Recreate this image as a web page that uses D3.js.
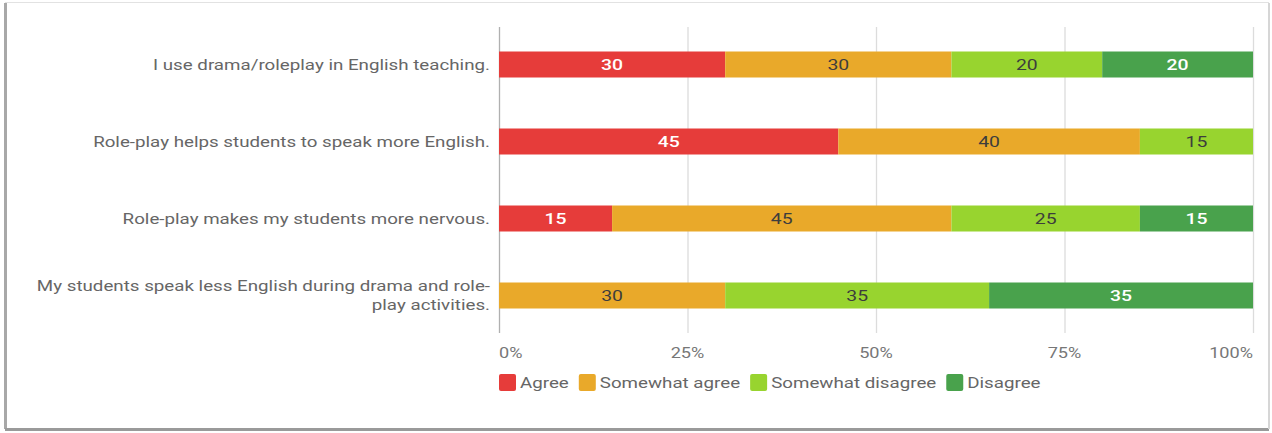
<!DOCTYPE html>
<html>
<head>
<meta charset="utf-8">
<script src="https://cdn.jsdelivr.net/npm/d3@7"></script>
<style>
  body { margin: 0; background: #fff; }
  text { font-family: Roboto, "Noto Sans", sans-serif; }
</style>
</head>
<body>
<div id="chart"></div>
<script>
const categories = [
  "I use drama/roleplay in English teaching.",
  "Role-play helps students to speak more English.",
  "Role-play makes my students more nervous.",
  "My students speak less English during drama and role-|play activities."
];
const seriesNames = ["Agree", "Somewhat agree", "Somewhat disagree", "Disagree"];
const agree = [30, 45, 15, 0];
const somewhatAgree = [30, 40, 45, 30];
const somewhatDisagree = [20, 15, 25, 35];
const disagree = [20, 0, 15, 35];
const tickValues = [0, 25, 50, 75, 100];

const colors = ["#e63c3a", "#e9a92a", "#98d42f", "#49a24c"];
const labelColors = ["#ffffff", "#3d3d3d", "#3d3d3d", "#ffffff"];

const W = 1272, H = 433;
// the source picture is stretched sideways, so text is too
const sx = 1.25;

const svg = d3.select("#chart").append("svg")
  .attr("width", W)
  .attr("height", H);

function place(x, y) {
  return "translate(" + x + "," + y + ") scale(" + sx + ",1)";
}

// frame round the picture
svg.append("rect")
  .attr("x", 5.5).attr("y", 2.5)
  .attr("width", 1263).attr("height", 426)
  .attr("fill", "#fff")
  .attr("stroke", "#e2e2e2");
svg.append("line")
  .attr("x1", 5.5).attr("x2", 5.5).attr("y1", 3).attr("y2", 429)
  .attr("stroke", "#a8a8a8").attr("stroke-width", 3);
svg.append("line")
  .attr("x1", 5).attr("x2", 1269).attr("y1", 429.5).attr("y2", 429.5)
  .attr("stroke", "#9a9a9a").attr("stroke-width", 3);
svg.append("line")
  .attr("x1", 1269).attr("x2", 1269).attr("y1", 3).attr("y2", 429)
  .attr("stroke", "#d6d6d6").attr("stroke-width", 2);

let x = d3.scaleLinear()
  .domain([0, 100])
  .range([499, 1253]);

let y = d3.scaleBand()
  .domain(categories)
  .range([26, 334])
  .paddingInner(51 / 77)
  .paddingOuter(51 / 154);

// gridlines
svg.append("g")
  .selectAll("line")
  .data(tickValues)
  .enter().append("line")
  .attr("x1", d => x(d) + 0.5)
  .attr("x2", d => x(d) + 0.5)
  .attr("y1", 27)
  .attr("y2", 333)
  .attr("stroke", d => d === 0 ? "#b0b0b0" : "#dcdcdc")
  .attr("stroke-width", 1.3);

// tick labels
svg.append("g")
  .selectAll("text")
  .data(tickValues)
  .enter().append("text")
  .attr("transform", d => place(x(d), 358))
  .attr("text-anchor", (d, i) => i === 0 ? "start" : (i === tickValues.length - 1 ? "end" : "middle"))
  .attr("font-size", 14.5)
  .attr("fill", "#777")
  .text(d => d + "%");

// stacked data
const table = categories.map((c, i) => ({
  cat: c,
  Agree: agree[i],
  "Somewhat agree": somewhatAgree[i],
  "Somewhat disagree": somewhatDisagree[i],
  Disagree: disagree[i]
}));
const stacked = d3.stack().keys(seriesNames)(table);

const layers = svg.append("g")
  .selectAll("g")
  .data(stacked)
  .enter().append("g")
  .attr("fill", (d, i) => colors[i]);

layers.selectAll("rect")
  .data(d => d)
  .enter().append("rect")
  .attr("x", d => x(d[0]))
  .attr("y", d => y(d.data.cat))
  .attr("width", d => x(d[1]) - x(d[0]))
  .attr("height", y.bandwidth());

stacked.forEach(function(layer, li) {
  svg.append("g")
    .selectAll("text")
    .data(layer.filter(d => d[1] - d[0] > 0))
    .enter().append("text")
    .attr("transform", d => place((x(d[0]) + x(d[1])) / 2, y(d.data.cat) + y.bandwidth() / 2))
    .attr("dy", "0.36em")
    .attr("text-anchor", "middle")
    .attr("font-size", 15.5)
    .attr("font-weight", li === 0 || li === 3 ? 500 : 400)
    .attr("fill", labelColors[li])
    .text(d => d[1] - d[0]);
});

// category labels
svg.append("g")
  .selectAll("text")
  .data(categories)
  .enter().append("text")
  .attr("transform", d => place(490, y(d) + y.bandwidth() / 2))
  .attr("text-anchor", "end")
  .attr("font-size", 15)
  .attr("fill", "#666")
  .each(function(d) {
    let lines = d.split("|");
    let t = d3.select(this);
    lines.forEach(function(l, i) {
      t.append("tspan")
        .attr("x", 0)
        .attr("y", (i - (lines.length - 1) / 2) * 19)
        .attr("dy", "0.36em")
        .text(l);
    });
  });

// legend, items laid out one after another
const legend = svg.append("g");
let lx = 499;
seriesNames.forEach(function(name, i) {
  let item = legend.append("g")
    .attr("transform", "translate(" + lx + ",374)");
  item.append("rect")
    .attr("width", 17)
    .attr("height", 17)
    .attr("rx", 2)
    .attr("fill", colors[i]);
  let t = item.append("text")
    .attr("transform", place(21, 8.5))
    .attr("dy", "0.36em")
    .attr("font-size", 15)
    .attr("fill", "#666")
    .text(name);
  lx += 21 + t.node().getComputedTextLength() * sx + 10;
});
</script>
</body>
</html>
